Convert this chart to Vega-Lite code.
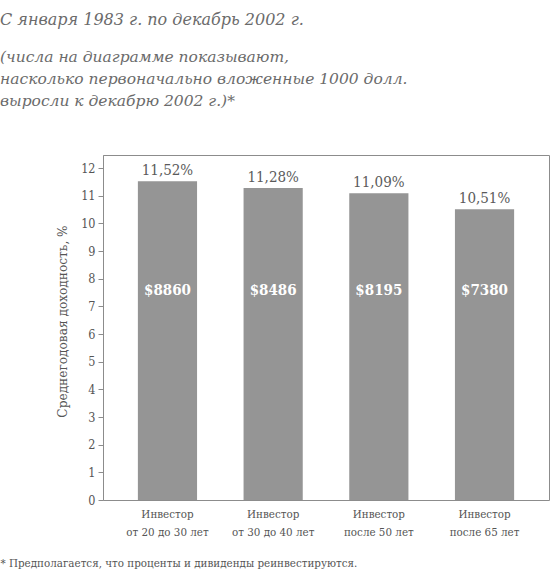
{
  "$schema": "https://vega.github.io/schema/vega-lite/v6.json",
  "width": 446,
  "height": 345,
  "autosize": {"type": "none"},
  "padding": {"left": 103, "top": 155, "right": 1, "bottom": 71},
  "background": "white",
  "config": {
    "font": "DejaVu Serif",
    "view": {"stroke": "#8c8c8c", "strokeWidth": 1}
  },
  "title": {
    "text": "С января 1983 г. по декабрь 2002 г.",
    "subtitle": ["(числа на диаграмме показывают,", "насколько первоначально вложенные 1000 долл.", "выросли к декабрю 2002 г.)*"],
    "anchor": "start",
    "frame": "group",
    "dx": -103,
    "offset": 46,
    "font": "DejaVu Serif",
    "fontSize": 16,
    "fontStyle": "italic",
    "fontWeight": "normal",
    "color": "#6b6b6b",
    "subtitleFont": "DejaVu Serif",
    "subtitleFontSize": 15.5,
    "subtitleFontStyle": "italic",
    "subtitleColor": "#6b6b6b",
    "subtitleLineHeight": 22,
    "subtitlePadding": 22
  },
  "data": {
    "values": [
      {"group": "Инвестор|от 20 до 30 лет", "ret": 11.52, "pct": "11,52%", "amount": "$8860"},
      {"group": "Инвестор|от 30 до 40 лет", "ret": 11.28, "pct": "11,28%", "amount": "$8486"},
      {"group": "Инвестор|после 50 лет", "ret": 11.09, "pct": "11,09%", "amount": "$8195"},
      {"group": "Инвестор|после 65 лет", "ret": 10.51, "pct": "10,51%", "amount": "$7380"}
    ]
  },
  "encoding": {
    "x": {
      "field": "group",
      "type": "nominal",
      "sort": null,
      "scale": {"paddingInner": 0.44, "paddingOuter": 0.33},
      "axis": {
        "title": "* Предполагается, что проценты и дивиденды реинвестируются.",
        "titleX": -103,
        "titleY": 63,
        "titleAlign": "left",
        "titleBaseline": "middle",
        "titleFont": "DejaVu Serif Condensed, DejaVu Serif",
        "titleFontSize": 11.5,
        "titleFontWeight": "normal",
        "titleColor": "#555555",
        "labelExpr": "split(datum.label, '|')",
        "labelAngle": 0,
        "labelFont": "DejaVu Serif Condensed, DejaVu Serif",
        "labelFontSize": 11.5,
        "labelColor": "#555555",
        "labelLineHeight": 18,
        "labelPadding": 8,
        "ticks": false,
        "domain": false
      }
    }
  },
  "layer": [
    {
      "mark": {"type": "bar", "color": "#959595"},
      "encoding": {
        "y": {
          "field": "ret",
          "type": "quantitative",
          "scale": {"domain": [0, 12.47], "nice": false},
          "axis": {
            "title": "Среднегодовая доходность, %",
            "titleX": -41,
            "titleY": 166,
            "titleBaseline": "middle",
            "titleFont": "DejaVu Serif Condensed, DejaVu Serif",
            "titleFontSize": 13.5,
            "titleFontWeight": "normal",
            "titleColor": "#555555",
            "values": [0, 1, 2, 3, 4, 5, 6, 7, 8, 9, 10, 11, 12],
            "tickCount": 13,
            "labelOverlap": false,
            "labelFont": "DejaVu Serif Condensed, DejaVu Serif",
            "labelFontSize": 12.5,
            "labelColor": "#555555",
            "labelPadding": 3,
            "tickColor": "#8c8c8c",
            "tickSize": 5,
            "domainColor": "#8c8c8c",
            "grid": false
          }
        }
      }
    },
    {
      "mark": {"type": "text", "baseline": "bottom", "dy": -3, "fontSize": 15, "color": "#5a5a5a", "font": "DejaVu Serif Condensed, DejaVu Serif"},
      "encoding": {
        "y": {"field": "ret", "type": "quantitative"},
        "text": {"field": "pct"}
      }
    },
    {
      "mark": {"type": "text", "baseline": "middle", "fontSize": 15, "fontWeight": "bold", "color": "white", "font": "DejaVu Serif Condensed, DejaVu Serif"},
      "encoding": {
        "y": {"datum": 7.6},
        "text": {"field": "amount"}
      }
    }
  ]
}
